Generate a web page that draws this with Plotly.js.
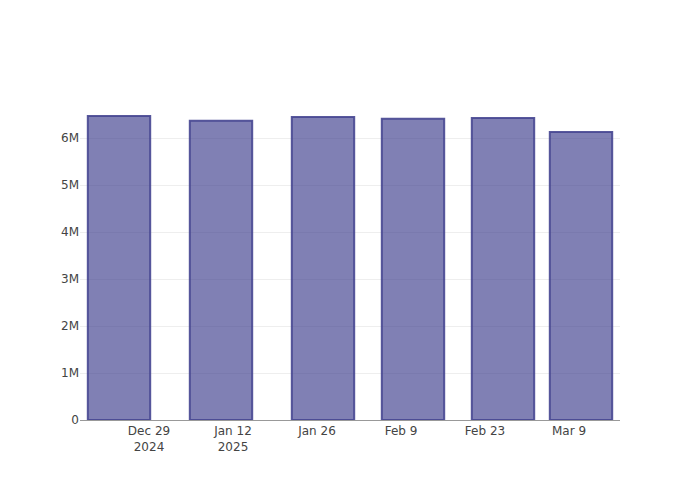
<!DOCTYPE html>
<html>
<head>
<meta charset="utf-8">
<script src="https://cdn.plot.ly/plotly-3.0.1.min.js"></script>
<style>html,body{margin:0;padding:0;background:#fff}</style>
</head>
<body>
<div id="chart" style="width:700px;height:500px"></div>
<script>
var dates = ["2024-12-24", "2025-01-10", "2025-01-27", "2025-02-11", "2025-02-26", "2025-03-11"];
var values = [6470000, 6370000, 6450000, 6410000, 6430000, 6130000];

Plotly.newPlot("chart", [{
  type: "bar",
  x: dates,
  y: values,
  marker: {
    color: "rgba(60,60,140,0.65)",
    line: {color: "rgba(70,70,145,0.9)", width: 2}
  },
  hoverinfo: "x+y"
}], {
  width: 700,
  height: 500,
  margin: {l: 80, r: 80, t: 100, b: 80},
  paper_bgcolor: "#fff",
  plot_bgcolor: "#fff",
  font: {family: "'DejaVu Sans', verdana, sans-serif", size: 12, color: "#444"},
  showlegend: false,
  xaxis: {
    type: "date",
    showgrid: false,
    showline: true,
    linecolor: "#999",
    linewidth: 1,
    zeroline: false,
    ticks: "",
    tickformat: "%b %-d\n%Y",
    dtick: 14 * 86400000,
    tick0: "2024-12-29"
  },
  yaxis: {
    showgrid: true,
    gridcolor: "#eee",
    zeroline: false,
    showline: false,
    ticks: ""
  }
}, {displayModeBar: false});
</script>
</body>
</html>
